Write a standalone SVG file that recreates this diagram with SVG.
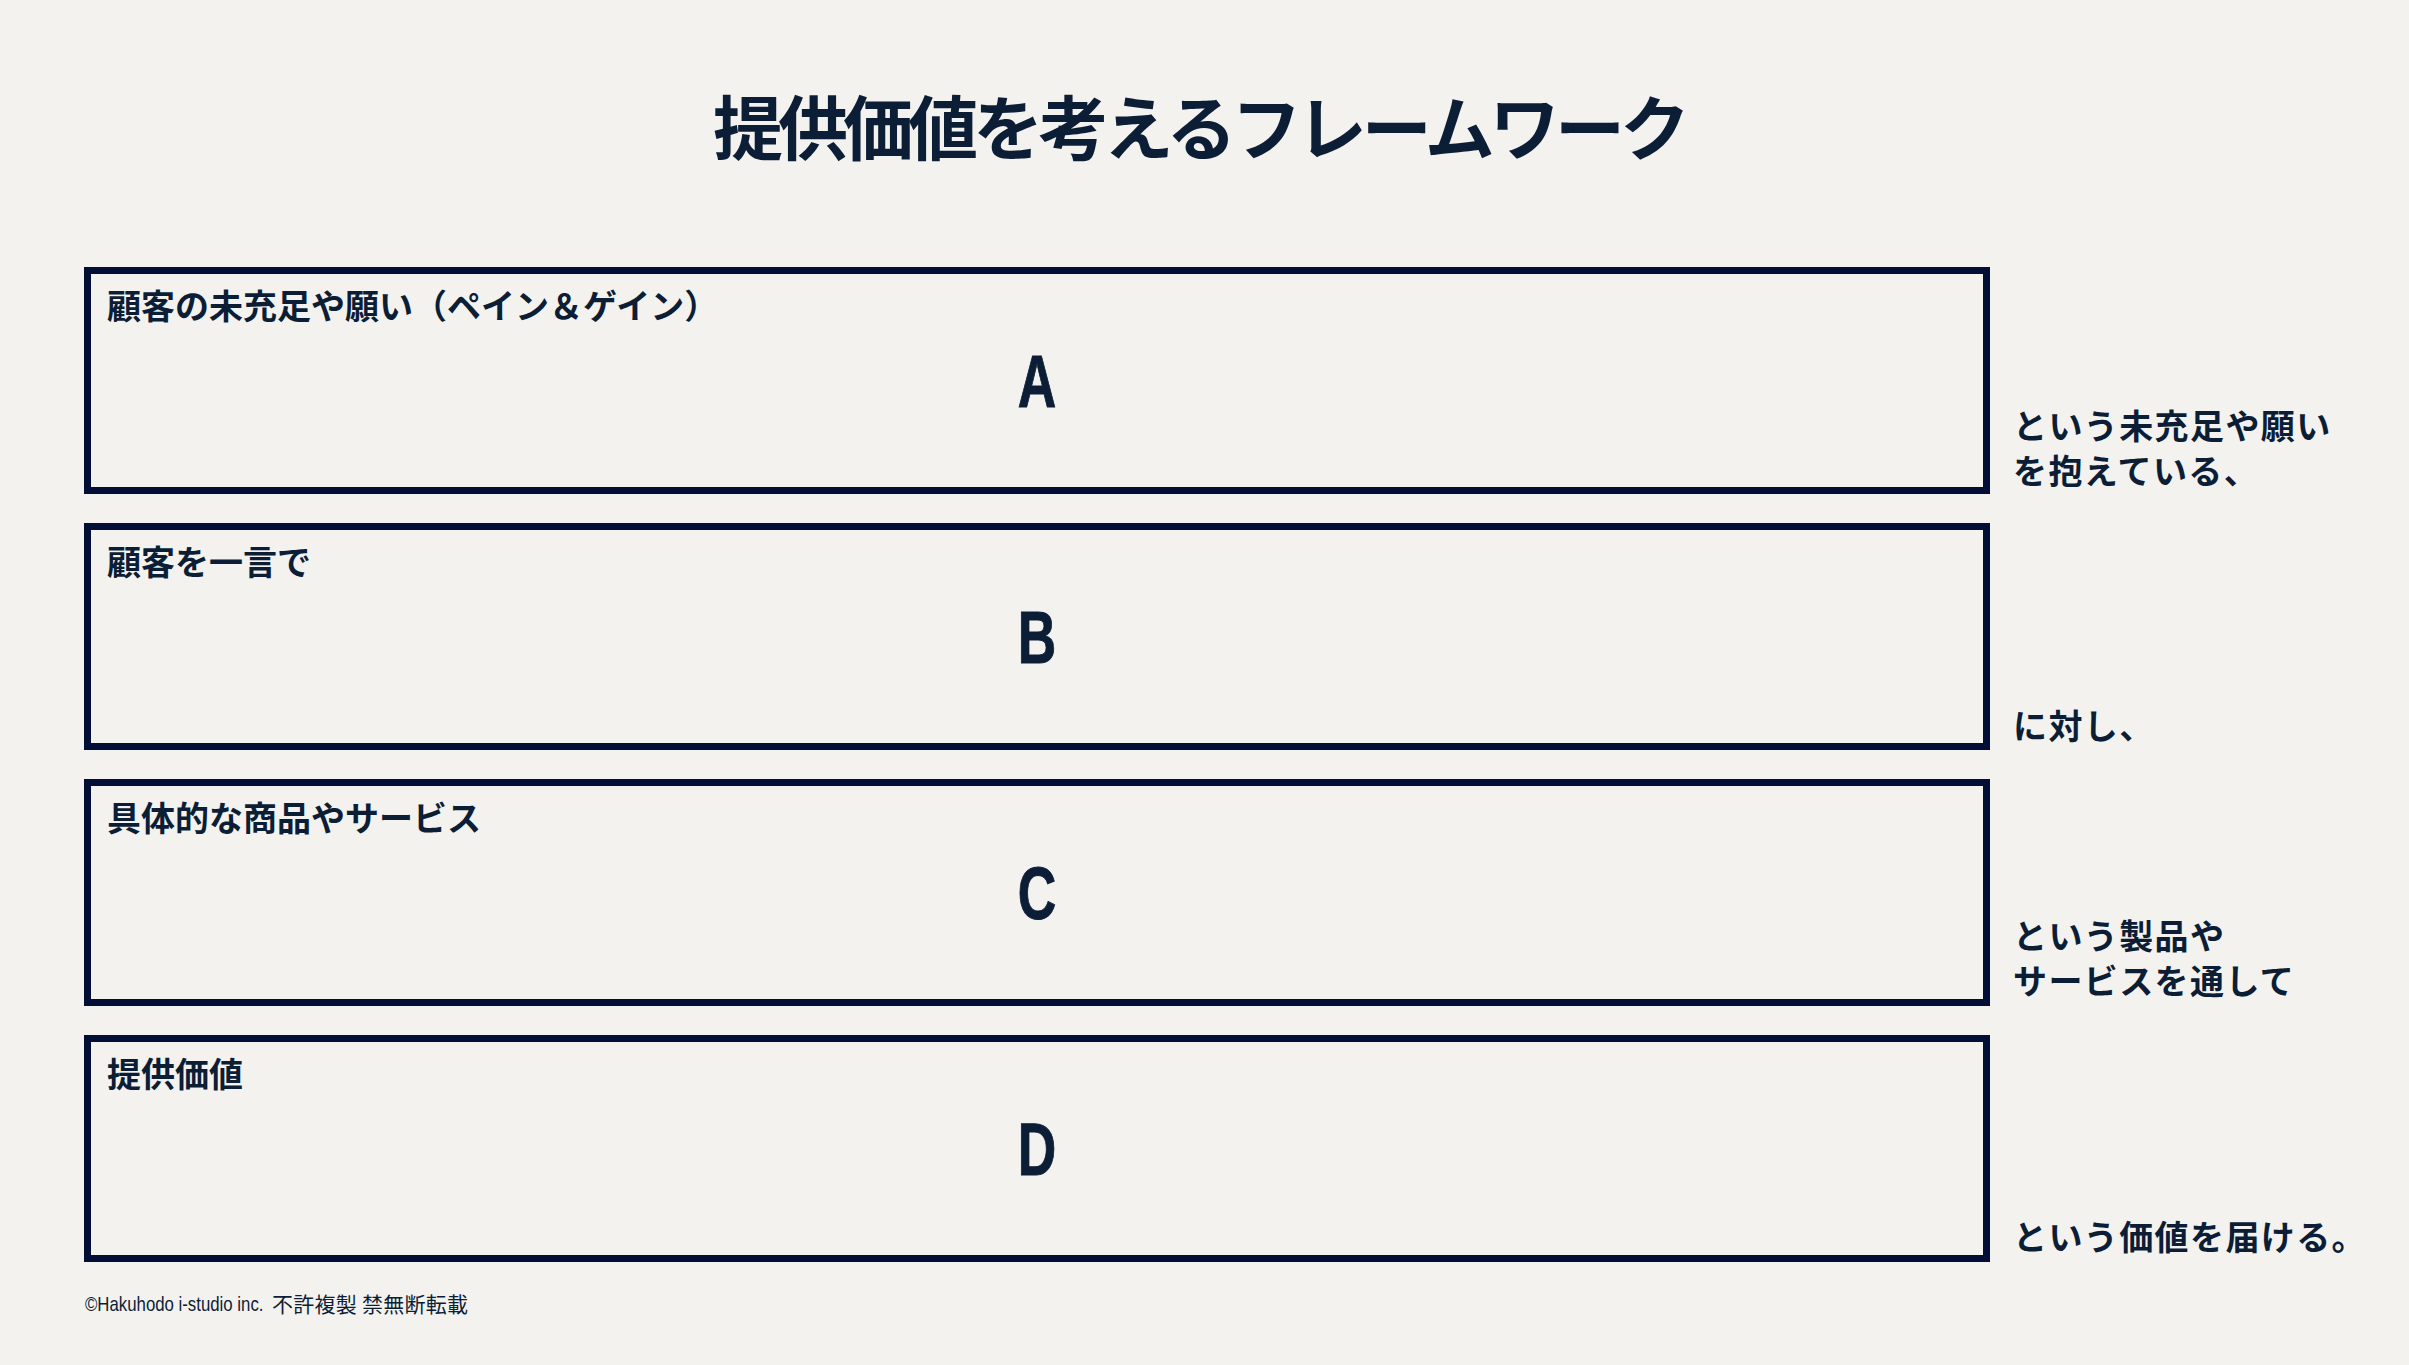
<svg xmlns="http://www.w3.org/2000/svg" width="2409" height="1365" viewBox="0 0 2409 1365">
<style>
.bg{fill:#f3f2ef}
.box{fill:none;stroke:#020e35;stroke-width:7}
.t{fill:#0c1d36;font-family:"Noto Sans CJK JP","Noto Sans",sans-serif;font-weight:700}
.title{font-size:70px}
.lab{font-size:34px}
.side{font-size:34px;letter-spacing:1.4px}
.big{fill:#0c1d36;font-family:"Liberation Sans",Arial,sans-serif;font-weight:700;font-size:74px;stroke:#0c1d36;stroke-width:1}
.foot{fill:#0c1d36;font-family:"Liberation Sans",sans-serif;font-size:20px}
.footj{fill:#0c1d36;font-family:"Noto Sans CJK JP",sans-serif;font-size:21px}
</style>
<rect class="bg" x="0" y="0" width="2409" height="1365"/>
<text class="t title" x="713" y="155" textLength="977" lengthAdjust="spacing">提供価値を考えるフレームワーク</text>
<g id="nodeA">
<rect class="box" x="87.5" y="270.5" width="1899" height="220"/>
<text class="t lab" x="107" y="319">顧客の未充足や願い（ペイン＆ゲイン）</text>
<text class="big" text-anchor="middle" transform="translate(1037 407) scale(0.72 1)">A</text>
</g>
<g id="nodeB">
<rect class="box" x="87.5" y="526.5" width="1899" height="220"/>
<text class="t lab" x="107" y="575">顧客を一言で</text>
<text class="big" text-anchor="middle" transform="translate(1037 663) scale(0.72 1)">B</text>
</g>
<g id="nodeC">
<rect class="box" x="87.5" y="782.5" width="1899" height="220"/>
<text class="t lab" x="107" y="831">具体的な商品やサービス</text>
<text class="big" text-anchor="middle" transform="translate(1037 919) scale(0.72 1)">C</text>
</g>
<g id="nodeD">
<rect class="box" x="87.5" y="1038.5" width="1899" height="220"/>
<text class="t lab" x="107" y="1087">提供価値</text>
<text class="big" text-anchor="middle" transform="translate(1037 1175) scale(0.72 1)">D</text>
</g>
<g id="connectors"></g>
<g id="side-texts">
<text class="t side" x="2013" y="439">という未充足や願い</text>
<text class="t side" x="2013" y="484">を抱えている、</text>
<text class="t side" x="2013" y="739">に対し、</text>
<text class="t side" x="2013" y="949">という製品や</text>
<text class="t side" x="2013" y="994">サービスを通して</text>
<text class="t side" x="2013" y="1250">という価値を届ける。</text>
</g>
<text class="foot" transform="translate(85 1311) scale(0.84 1)">©Hakuhodo i-studio inc.</text>
<text class="footj" x="272" y="1312" textLength="196" lengthAdjust="spacing">不許複製 禁無断転載</text>
</svg>
